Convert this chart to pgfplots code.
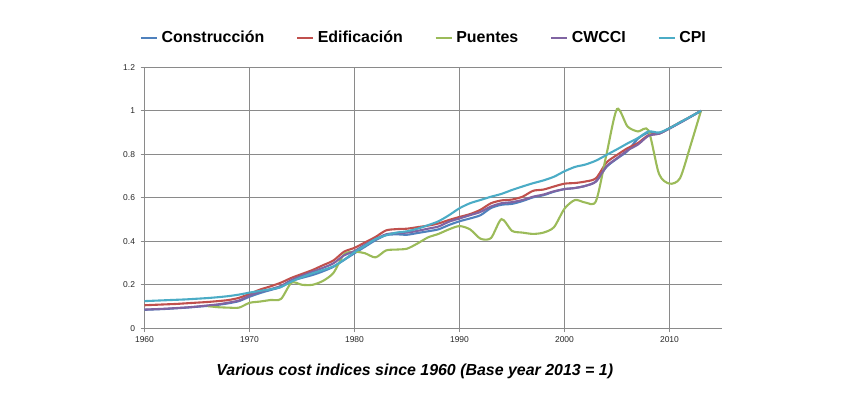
\documentclass[border=0pt]{standalone}
\usepackage{pgfplots}
\pgfplotsset{compat=1.18}
\usepackage{pgfplotstable}
\usepackage{fontspec}
\setmainfont{Liberation Sans}
\definecolor{cBlue}{HTML}{4F81BD}
\definecolor{cRed}{HTML}{C0504D}
\definecolor{cGreen}{HTML}{9BBB59}
\definecolor{cPurple}{HTML}{8064A2}
\definecolor{cAqua}{HTML}{4BACC6}
\definecolor{gridc}{HTML}{8A8A8A}

\pgfplotstableread{
year con edi cwc cpi
1960 .085 .106 .086 .125
1961 .087 .108 .088 .127
1962 .089 .110 .090 .129
1963 .092 .112 .093 .131
1964 .095 .115 .096 .133
1965 .099 .118 .100 .136
1966 .103 .121 .105 .139
1967 .108 .125 .110 .143
1968 .115 .130 .118 .148
1969 .125 .140 .128 .155
1970 .145 .158 .150 .164
1971 .162 .178 .168 .172
1972 .176 .193 .180 .179
1973 .190 .210 .195 .190
1974 .218 .232 .222 .215
1975 .232 .250 .242 .235
1976 .245 .268 .260 .253
1977 .262 .290 .278 .268
1978 .283 .312 .299 .285
1979 .314 .352 .335 .315
1980 .345 .370 .355 .350
1981 .375 .395 .385 .380
1982 .405 .420 .410 .410
1983 .428 .450 .432 .428
1984 .432 .456 .438 .440
1985 .430 .458 .440 .446
1986 .438 .465 .448 .458
1987 .446 .472 .458 .474
1988 .455 .482 .468 .492
1989 .475 .498 .490 .520
1990 .492 .512 .505 .552
1991 .505 .525 .520 .575
1992 .520 .545 .535 .590
1993 .553 .575 .560 .605
1994 .568 .588 .575 .618
1995 .572 .592 .580 .636
1996 .585 .605 .590 .652
1997 .602 .632 .605 .667
1998 .612 .638 .615 .680
1999 .628 .652 .630 .697
2000 .640 .665 .640 .722
2001 .645 .668 .645 .742
2002 .655 .675 .655 .753
2003 .675 .690 .675 .771
2004 .742 .762 .745 .797
2005 .780 .797 .782 .823
2006 .815 .828 .818 .850
2007 .872 .852 .845 .875
2008 .900 .888 .885 .905
2009 .895 .895 .895 .900
2010 .920 .920 .918 .920
2011 .945 .947 .945 .947
2012 .972 .973 .972 .973
2013 1.000 1.000 1.000 1.000
}\maindata

\pgfplotstableread{
year pue
1966 .102
1967 .097
1968 .095
1969 .095
1970 .117
1971 .123
1972 .130
1973 .135
1974 .210
1975 .200
1976 .200
1977 .218
1978 .255
1979 .340
1980 .352
1981 .345
1982 .326
1983 .358
1984 .362
1985 .366
1986 .390
1987 .418
1988 .434
1989 .455
1990 .470
1991 .455
1992 .412
1993 .415
1994 .502
1995 .448
1996 .440
1997 .434
1998 .440
1999 .465
2000 .550
2001 .590
2002 .578
2003 .585
2004 .800
2005 1.008
2006 .928
2007 .905
2008 .910
2009 .710
2010 .665
2011 .690
2012 .840
2013 1.000
}\puedata

\begin{document}
\begin{tikzpicture}
\useasboundingbox (0,0) rectangle (850bp,400bp);
\begin{axis}[
  at={(144.5bp,71.7bp)}, anchor=south west,
  scale only axis, width=577.5bp, height=261bp,
  xmin=1960, xmax=2015, ymin=0, ymax=1.2,
  xtick={1960,1970,1980,1990,2000,2010},
  xticklabels={1960,1970,1980,1990,2000,2010},
  ytick={0,0.2,0.4,0.6,0.8,1,1.2},
  yticklabels={0,0.2,0.4,0.6,0.8,1,1.2},
  axis x line*=bottom, axis y line*=left,
  axis line style={gridc, line width=0.6bp, -},
  grid=major, major grid style={gridc, line width=0.6bp},
  tick align=outside, major tick length=4bp,
  tick style={gridc, line width=0.6bp},
  ticklabel style={font=\fontsize{8.5}{10}\selectfont, text=black!85},
  /pgf/number format/assume math mode=true,
  xticklabel style={yshift=-1bp},
  yticklabel style={xshift=-2bp},
  clip=false,
  legend columns=5,
  legend style={at={(0.484,1.113)}, anchor=center, draw=none, fill=none,
    font=\fontsize{16}{19}\selectfont\bfseries,
    /tikz/every even column/.append style={column sep=30bp},
    /tikz/every odd column/.append style={column sep=2bp}},
  legend image code/.code={\draw[#1, line width=1.5bp, smooth=false] (0bp,0bp) -- (16bp,0bp);},
  every axis plot/.append style={line width=2.1bp, smooth, tension=0.45},
]
\addplot[cBlue] table[x=year,y=con]{\maindata};
\addlegendentry{Construcción}
\addplot[cRed] table[x=year,y=edi]{\maindata};
\addlegendentry{Edificación}
\addplot[cGreen] table[x=year,y=pue]{\puedata};
\addlegendentry{Puentes}
\addplot[cPurple] table[x=year,y=cwc]{\maindata};
\addlegendentry{CWCCI}
\addplot[cAqua] table[x=year,y=cpi]{\maindata};
\addlegendentry{CPI}
\node[font=\fontsize{16}{19}\selectfont\bfseries\itshape, anchor=center]
  at (axis description cs:0.468,-0.164) {Various cost indices since 1960 (Base year 2013 = 1)};
\end{axis}
\end{tikzpicture}
\end{document}
